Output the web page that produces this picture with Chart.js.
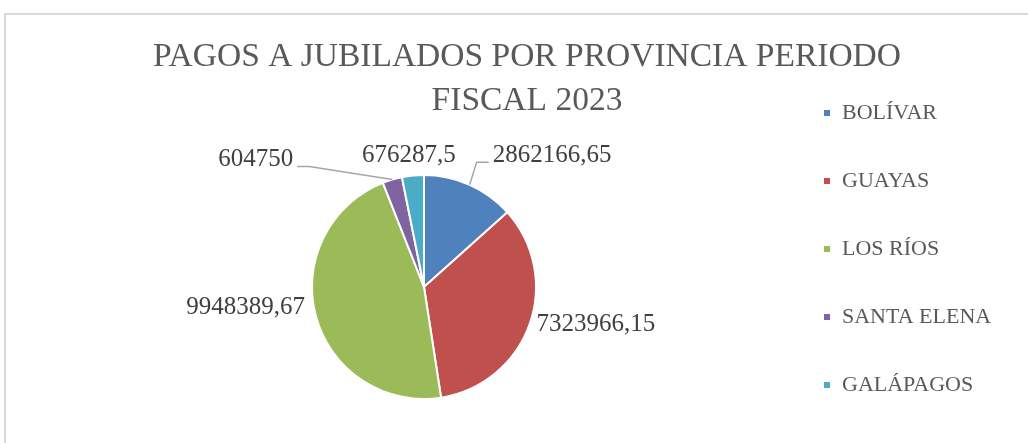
<!DOCTYPE html>
<html>
<head>
<meta charset="utf-8">
<script src="https://cdn.jsdelivr.net/npm/chart.js@4/dist/chart.umd.min.js"></script>
<style>
  html, body { margin: 0; padding: 0; background: #fff; }
  #wrap { position: relative; width: 1028px; height: 443px; overflow: hidden; }
  #frame { position: absolute; left: 4px; top: 13px; width: 1100px; height: 500px;
           border-top: 2px solid #d9d9d9; border-left: 2px solid #d9d9d9; }
  #chart { position: absolute; left: 0; top: 0; }
</style>
</head>
<body>
<div id="wrap">
  <div id="frame"></div>
  <canvas id="chart" width="1028" height="443"></canvas>
</div>
<script>
const provinces = ['BOLÍVAR', 'GUAYAS', 'LOS RÍOS', 'SANTA ELENA', 'GALÁPAGOS'];
const payments = [2862166.65, 7323966.15, 9948389.67, 604750, 676287.5];
const titleLines = ['PAGOS A JUBILADOS POR PROVINCIA PERIODO', 'FISCAL 2023'];

const sliceColors = ['#4F81BD', '#C0504D', '#9BBB59', '#8064A2', '#4BACC6'];
const serif = "'Liberation Serif', 'DejaVu Serif', serif";

// where each value label sits relative to the outer middle of its slice
const labelPlace = [
  {dx: 23, dy: -29.5, align: 'left', leader: true},
  {dx: 7, dy: 0, align: 'left'},
  {dx: -11, dy: -9, align: 'right'},
  {dx: -99, dy: -20, align: 'right', leader: true},
  {dx: -4, dy: -20, align: 'center'}
];

function fmt(v) {
  return String(v).replace('.', ',');
}

const valueLabels = {
  id: 'valueLabels',
  afterLayout(chart) {
    // legend is kept narrow for the layout, let its text run to the edge
    const lg = chart.legend;
    lg.right = chart.width;
    lg.width = lg.right - lg.left;
  },
  afterDatasetsDraw(chart) {
    const ctx = chart.ctx;
    const meta = chart.getDatasetMeta(0);
    ctx.save();
    ctx.font = '25px ' + serif;
    ctx.textBaseline = 'middle';
    meta.data.forEach((arc, i) => {
      const p = arc.getProps(['x', 'y', 'startAngle', 'endAngle', 'outerRadius'], true);
      const mid = (p.startAngle + p.endAngle) / 2;
      const ex = p.x + Math.cos(mid) * p.outerRadius;
      const ey = p.y + Math.sin(mid) * p.outerRadius;
      const place = labelPlace[i];
      const tx = ex + place.dx;
      const ty = ey + place.dy;
      if (place.leader) {
        const side = place.align === 'right' ? 1 : -1;
        ctx.strokeStyle = '#a6a6a6';
        ctx.lineWidth = 1.5;
        ctx.beginPath();
        ctx.moveTo(ex, ey);
        ctx.lineTo(tx + side * 16, ty + 7);
        ctx.lineTo(tx + side * 4, ty + 7);
        ctx.stroke();
      }
      ctx.fillStyle = '#404040';
      ctx.textAlign = place.align;
      ctx.fillText(fmt(payments[i]), tx, ty);
    });
    ctx.restore();
  }
};

new Chart(document.getElementById('chart'), {
  type: 'pie',
  data: {
    labels: provinces,
    datasets: [{
      data: payments,
      backgroundColor: sliceColors,
      borderColor: '#ffffff',
      borderWidth: 2,
      hoverOffset: 0,
      radius: 112
    }]
  },
  options: {
    responsive: false,
    animation: false,
    devicePixelRatio: 1,
    layout: {
      padding: {left: 71, right: 45, top: 0, bottom: 1}
    },
    plugins: {
      title: {
        display: true,
        text: titleLines,
        color: '#595959',
        font: {family: serif, size: 33.5, weight: 'normal', lineHeight: '44px'},
        padding: {top: 35, bottom: 9}
      },
      legend: {
        position: 'right',
        align: 'end',
        maxWidth: 206,
        labels: {
          color: '#595959',
          font: {family: serif, size: 22},
          boxWidth: 8,
          boxHeight: 8,
          padding: 46
        }
      },
      tooltip: {enabled: false}
    }
  },
  plugins: [valueLabels]
});
</script>
</body>
</html>
